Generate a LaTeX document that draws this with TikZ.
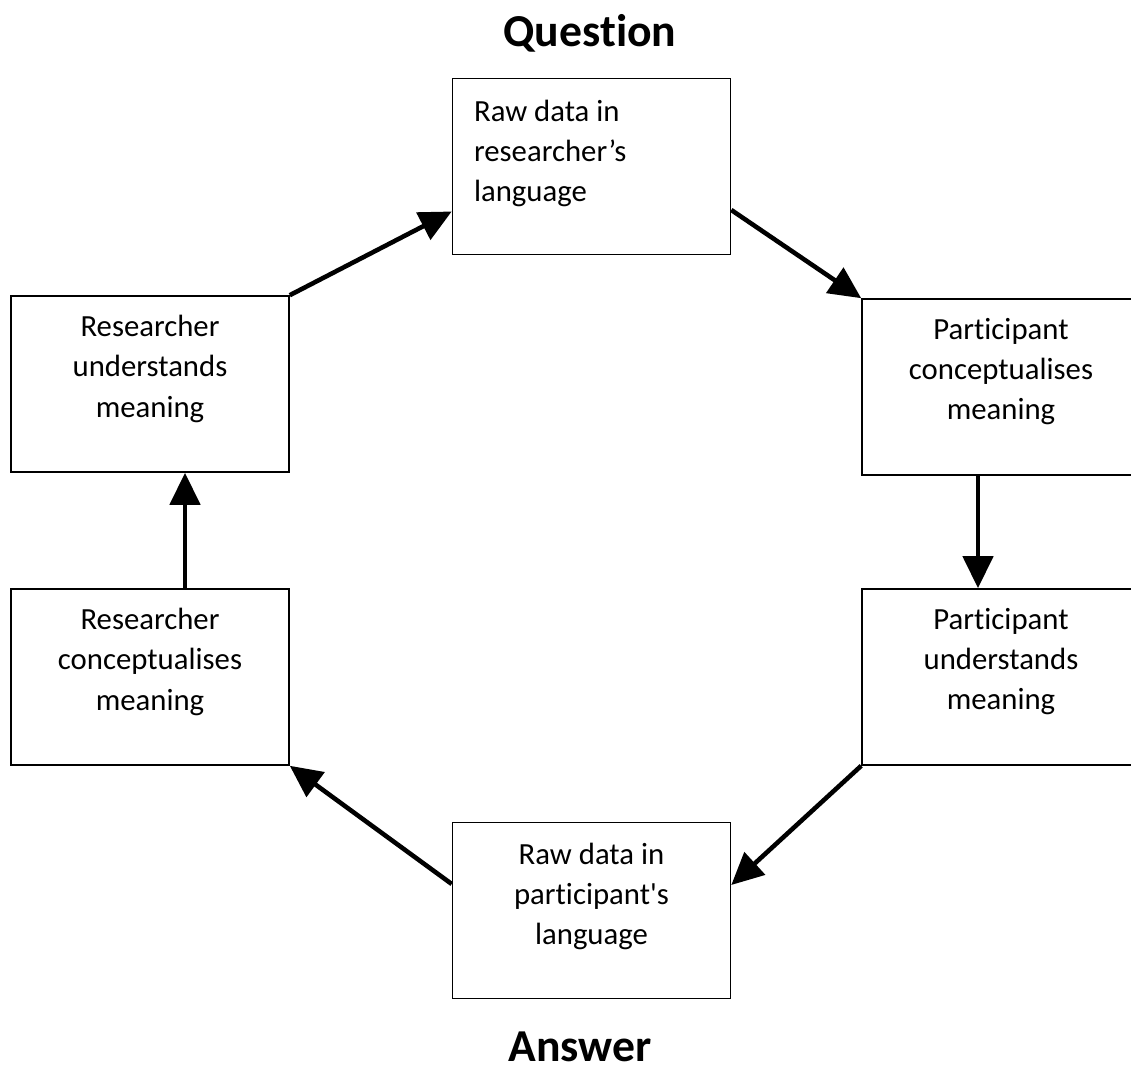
\documentclass[tikz,border=0pt]{standalone}
\usepackage{fontspec}
\setmainfont{Carlito}[Ligatures={NoCommon,TeXOff}]
\usetikzlibrary{arrows.meta}
\begin{document}
\begin{tikzpicture}[
    stage/.style={
        rectangle,
        draw,
        line width=0.9pt,
        minimum width=5.56cm,
        minimum height=3.52cm
    },
    words/.style={
        align=center,
        inner sep=0pt,
        font=\fontsize{17.5}{22.8}\selectfont
    },
    title/.style={font=\fontsize{26}{30}\selectfont\bfseries},
    flow/.style={-{Triangle[length=0.64cm, width=0.6cm]}, line width=2.6pt}
]
    \useasboundingbox (0,0) rectangle (22.62,21.44);
    \clip (0,0) rectangle (22.62,21.44);

    % Titoli
    \node[title] (question) at (11.8,20.78) {Question};
    \node[title] (answer) at (11.6,0.5) {Answer};

    % Sei fasi
    \node[stage, label={[words, align=left, anchor=north west, xshift=0.44cm, yshift=-0.44cm]north west:{Raw data in\\researcher’s\\language}}]
         (raw1) at (11.83,18.11) {};
    \node[stage, label={[words, anchor=north, yshift=-0.4cm]north:{Participant\\conceptualises\\meaning}}]
         (pcon) at (20.02,13.70) {};
    \node[stage, label={[words, anchor=north, yshift=-0.4cm]north:{Participant\\understands\\meaning}}]
         (pund) at (20.02,7.90) {};
    \node[stage, label={[words, anchor=north, yshift=-0.42cm]north:{Raw data in\\participant's\\language}}]
         (raw2) at (11.83,3.23) {};
    \node[stage, label={[words, anchor=north, yshift=-0.4cm]north:{Researcher\\conceptualises\\meaning}}]
         (rcon) at (3.0,7.90) {};
    \node[stage, label={[words, anchor=north, yshift=-0.4cm]north:{Researcher\\understands\\meaning}}]
         (rund) at (3.0,13.76) {};

    % Frecce del ciclo
    \draw[flow] (rund.north east) -- ([yshift=-0.9cm]raw1.west);
    \draw[flow] ([yshift=-0.87cm]raw1.east) -- (pcon.north west);
    \draw[flow] ([xshift=-0.46cm]pcon.south) -- ([xshift=-0.46cm]pund.north);
    \draw[flow] (pund.south west) -- ([yshift=0.51cm]raw2.east);
    \draw[flow] ([yshift=0.53cm]raw2.west) -- (rcon.south east);
    \draw[flow] ([xshift=0.7cm]rcon.north) -- ([xshift=0.7cm]rund.south);
\end{tikzpicture}
\end{document}
